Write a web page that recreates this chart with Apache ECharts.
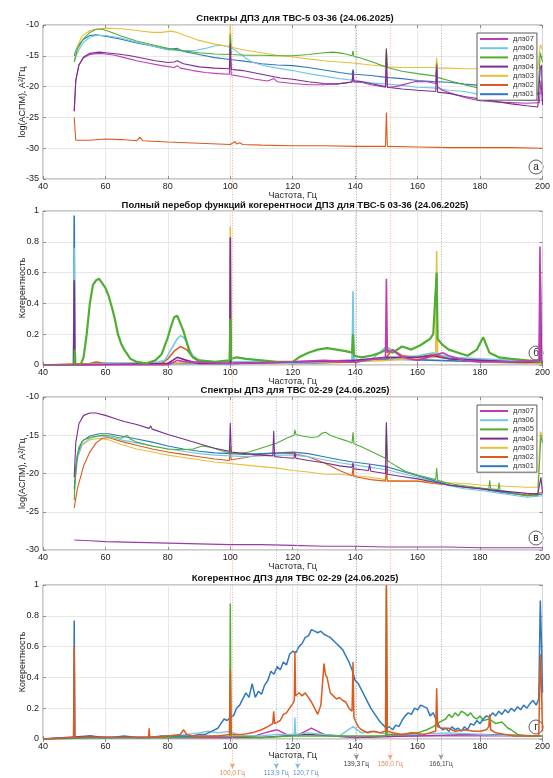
<!DOCTYPE html>
<html><head><meta charset="utf-8">
<script src="https://cdn.jsdelivr.net/npm/echarts/dist/echarts.min.js"></script>
<style>html,body{margin:0;padding:0;background:#fff}#c{width:553px;height:778px}</style>
</head><body><div id="c"></div><script>
// ---------- tick values ----------
const xTicks = [40, 60, 80, 100, 120, 140, 160, 180, 200];
const ySpecA = [-35, -10, 5];
const ySpecB = [0, 1, 0.2];
const ySpecC = [-30, -10, 5];
const ySpecD = [0, 1, 0.2];
const legendNames = ['длэ07','длэ06','длэ05','длэ04','длэ03','длэ02','длэ01'];
const colors = {d07:'#c03cb4', d06:'#72c8e4', d05:'#4fae32', d04:'#7b2d8e', d03:'#e9be3c', d02:'#dc5a1e', d01:'#2f78c0'};

// ---------- panel (а): spectra TVS-5 03-36 ----------
const a07 = [[50,-24],[50.5,-19],[51.5,-16.5],[53,-15.3],[55,-14.8],[58,-14.6],[60,-14.7],[63,-14.9],[66,-15.3],[70,-15.8],[74,-16.2],[78,-16.6],[82,-16.9],[83,-16.6],[84,-17],[88,-17.4],[92,-17.7],[96,-17.9],[99.7,-18.0],[100,-14.5],[100.3,-18.1],[104,-18.4],[108,-18.8],[112,-19.1],[114,-18.7],[115,-19.2],[120,-19.5],[125,-19.7],[130,-19.7],[135,-19.5],[139,-19.3],[139.3,-18.2],[139.6,-19.3],[142,-19.3],[145,-19.7],[149.7,-20.1],[150,-16.8],[150.3,-20.1],[153,-20.0],[156,-19.6],[159,-19.2],[163,-19.2],[165.8,-19.5],[166.1,-16.5],[166.4,-20],[168,-20.6],[172,-21.3],[176,-21.9],[180,-22.3],[185,-22.5],[190,-22.6],[195,-22.7],[199,-22.6],[199.5,-19],[200,-22.5]];
const a06 = [[50,-16],[51,-14.5],[53,-12.8],[55,-12.0],[57,-11.7],[60,-11.7],[65,-12.1],[70,-12.8],[75,-13.4],[80,-14.0],[85,-14.2],[89,-14.1],[92,-13.8],[95,-13.4],[97,-13.3],[99,-13.5],[101,-13.9],[103,-14.6],[105,-15.4],[107,-16.0],[110,-16.5],[115,-17.0],[120,-17.4],[125,-17.9],[130,-18.3],[135,-18.7],[140,-19.0],[145,-19.4],[150,-19.6],[155,-19.8],[160,-20.1],[165,-20.2],[170,-20.6],[175,-20.8],[180,-21.3],[185,-21.8],[190,-22.0],[195,-22.3],[200,-22.2]];
const a05 = [[50,-16],[51,-14],[53,-12.2],[55,-11.2],[57,-10.7],[59,-10.7],[61,-11.0],[65,-11.8],[70,-12.6],[75,-13.2],[80,-13.8],[85,-14.2],[90,-14.5],[95,-14.7],[99.7,-14.8],[100,-11.5],[100.3,-14.8],[105,-14.9],[110,-14.9],[115,-15.0],[120,-15.0],[125,-14.8],[130,-14.5],[133,-14.4],[136,-14.6],[139,-15.0],[139.3,-14.2],[139.6,-15.1],[142,-15.4],[146,-16.1],[149.7,-16.8],[150,-14.2],[150.3,-16.9],[155,-17.5],[160,-17.9],[165.8,-18.3],[166.1,-16.2],[166.4,-18.5],[170,-19.0],[175,-19.7],[180,-20.3],[185,-20.7],[190,-21.0],[195,-21.3],[198.5,-21.3],[199.3,-14.5],[200,-16]];
const a04 = [[50,-24],[50.5,-19],[51.5,-16.5],[53,-15.2],[55,-14.6],[58,-14.4],[60,-14.5],[64,-14.7],[68,-15.0],[72,-15.4],[76,-15.8],[80,-16.1],[82,-16.0],[83,-15.8],[85,-16.3],[90,-16.8],[95,-17.0],[99.7,-17.1],[100,-13.0],[100.3,-17.2],[104,-17.4],[108,-17.8],[112,-18.2],[116,-18.6],[120,-18.8],[125,-19.2],[130,-19.5],[134,-19.6],[137,-19.4],[139,-19.2],[139.3,-17.5],[139.6,-19.1],[142,-19.2],[145,-19.5],[149.7,-20.0],[150,-13.8],[150.3,-20.1],[155,-20.4],[160,-20.6],[165.8,-20.8],[166.1,-17],[166.4,-20.9],[170,-21.1],[175,-21.6],[180,-22.0],[185,-22.4],[190,-22.8],[195,-23.1],[198.5,-23.3],[199.3,-17],[199.7,-16.5],[200,-23]];
const a03 = [[50,-16],[51,-13.5],[52.5,-11.8],[55,-10.9],[58,-10.6],[60,-10.5],[65,-10.6],[70,-10.9],[75,-11.2],[78,-11.2],[81,-11.0],[83,-11.2],[86,-11.8],[90,-12.5],[95,-13.1],[99.7,-13.5],[100,-10.0],[100.3,-13.6],[105,-14.1],[110,-14.5],[115,-14.9],[120,-15.2],[125,-15.5],[130,-15.8],[135,-16.0],[140,-16.2],[145,-16.5],[149.7,-16.7],[150,-13.8],[150.3,-16.8],[155,-16.9],[160,-16.9],[165.8,-16.9],[166.1,-15.3],[166.4,-17],[170,-17.0],[175,-17.1],[180,-17.1],[185,-17.1],[190,-17.2],[195,-17.2],[198.5,-17.0],[199.3,-13.2],[200,-14]];
const a02 = [[50,-25],[50.5,-28.7],[55,-28.7],[60,-28.5],[65,-28.6],[70,-28.8],[71,-28.2],[72,-28.8],[80,-29.0],[90,-29.2],[100,-29.4],[101.5,-28.9],[102,-29.3],[103,-29.1],[104,-29.4],[110,-29.5],[120,-29.6],[130,-29.6],[140,-29.7],[149.7,-29.7],[150,-24.2],[150.3,-29.7],[160,-29.8],[170,-29.9],[180,-29.9],[190,-29.9],[200,-30.0]];
const a01 = [[50,-15],[51,-13.5],[53,-12.3],[55,-11.7],[57,-11.6],[60,-11.8],[65,-12.3],[70,-12.9],[75,-13.4],[80,-14.0],[83,-13.8],[85,-14.3],[90,-14.8],[95,-15.3],[100,-15.6],[105,-15.9],[110,-16.3],[115,-16.5],[120,-16.6],[125,-16.9],[130,-17.3],[135,-17.7],[139,-18.0],[139.3,-17.2],[139.6,-18.0],[145,-18.2],[150,-18.5],[155,-18.7],[160,-19.0],[165,-19.2],[170,-19.3],[175,-19.6],[180,-19.8],[185,-20.3],[190,-20.8],[195,-21.3],[200,-21.0]];

// ---------- panel (б): coherence TVS-5 03-36 ----------
const bGreen = [[40,0],[50,0],[50.2,0.1],[50.4,0],[52,0],[53,0.05],[54,0.2],[55,0.4],[56,0.52],[57,0.55],[58,0.56],[59,0.53],[60,0.5],[61,0.45],[62,0.38],[63,0.3],[64,0.2],[65,0.14],[66,0.1],[67,0.07],[68,0.04],[70,0.02],[73,0.01],[76,0.03],[78,0.07],[80,0.18],[81,0.25],[82,0.31],[83,0.32],[84,0.27],[85,0.22],[86,0.15],[87,0.08],[88,0.05],[90,0.03],[95,0.02],[99.8,0.03],[100,0.3],[100.2,0.04],[102,0.05],[105,0.04],[110,0.03],[115,0.02],[120,0.02],[122,0.05],[125,0.08],[128,0.1],[131,0.11],[134,0.1],[137,0.09],[139,0.08],[139.3,0.2],[139.6,0.06],[142,0.05],[145,0.06],[148,0.08],[150,0.1],[152,0.08],[155,0.12],[158,0.1],[161,0.13],[164,0.17],[165,0.2],[166.1,0.6],[166.4,0.17],[168,0.13],[170,0.1],[173,0.08],[176,0.06],[179,0.1],[181,0.18],[183,0.08],[186,0.05],[190,0.04],[195,0.03],[200,0.02]];
const bLightBlue = [[40,0],[49.8,0],[50,0.76],[50.2,0],[60,0.01],[75,0.01],[79,0.03],[81,0.1],[83,0.17],[84,0.19],[85,0.18],[86,0.15],[87,0.1],[88,0.06],[90,0.03],[95,0.02],[100,0.02],[110,0.02],[120,0.01],[130,0.02],[139,0.03],[139.3,0.48],[139.6,0.03],[145,0.03],[150,0.12],[155,0.05],[160,0.06],[165,0.08],[170,0.05],[180,0.04],[190,0.03],[200,0.02]];
const bOrange = [[40,0],[55,0.01],[57,0.02],[60,0.01],[78,0.01],[80,0.04],[82,0.09],[84,0.12],[86,0.1],[88,0.05],[90,0.02],[100,0.02],[110,0.02],[120,0.01],[140,0.02],[150,0.05],[152,0.1],[155,0.06],[160,0.05],[165,0.07],[170,0.05],[180,0.03],[200,0.02]];
const bYellow = [[40,0],[49.8,0],[50,0.1],[50.2,0],[99.8,0.02],[100,0.9],[100.2,0.02],[120,0.01],[150,0.03],[165.8,0.05],[166.1,0.74],[166.4,0.05],[180,0.02],[200,0.01]];
const bPurple = [[40,0],[49.8,0],[50,0.55],[50.2,0],[80,0.01],[83,0.05],[86,0.03],[90,0.01],[99.8,0.01],[100,0.83],[100.2,0.01],[120,0.02],[140,0.03],[150,0.05],[160,0.05],[165,0.06],[170,0.04],[180,0.03],[190,0.02],[199,0.02],[199.3,0.6],[199.7,0.02],[200,0.01]];
const bMagenta = [[40,0],[80,0],[83,0.03],[86,0.02],[100,0.01],[120,0.02],[130,0.03],[140,0.02],[149.7,0.05],[150,0.56],[150.3,0.08],[152,0.1],[155,0.05],[160,0.03],[165,0.06],[168,0.08],[170,0.06],[175,0.03],[180,0.02],[190,0.02],[198.9,0.03],[199.2,0.77],[199.5,0.03],[200,0.02]];
const bBlue = [[40,0],[49.8,0],[50,0.97],[50.2,0],[60,0.01],[100,0.01],[139,0.02],[139.3,0.1],[139.6,0.02],[150,0.04],[200,0.01]];

// ---------- panel (в): spectra TVS 02-29 ----------
const c07 = [[50,-28.7],[55,-28.8],[60,-28.9],[70,-29.0],[80,-29.1],[90,-29.2],[100,-29.3],[110,-29.3],[120,-29.4],[130,-29.5],[140,-29.5],[150,-29.6],[160,-29.6],[170,-29.6],[180,-29.7],[190,-29.7],[200,-29.7]];
const c06 = [[50,-22.5],[51,-18],[52.5,-16.2],[55,-15.4],[58,-15.1],[61,-15.2],[65,-15.6],[70,-16.0],[75,-16.4],[80,-16.8],[85,-17.1],[90,-17.4],[95,-17.6],[100,-17.7],[105,-17.8],[110,-17.7],[115,-17.6],[120,-17.6],[125,-17.8],[130,-18.2],[135,-18.6],[140,-18.9],[145,-19.2],[150,-19.5],[155,-20.0],[160,-20.5],[165,-21.0],[170,-21.6],[175,-22.0],[180,-22.2],[185,-22.5],[190,-22.8],[195,-23.1],[200,-22.9]];
const c05 = [[50,-23.5],[50.5,-19],[51.5,-16.5],[53,-15.6],[56,-15.2],[59,-15.0],[62,-15.1],[65,-15.4],[67,-15.0],[68,-15.5],[70,-15.9],[75,-16.4],[80,-16.8],[85,-16.9],[88,-16.8],[91,-16.4],[94,-16.6],[97,-17.0],[99.7,-17.3],[100,-16.4],[100.3,-17.3],[103,-17.4],[106,-17.2],[109,-16.8],[112,-16.4],[115,-16.0],[118,-15.4],[120.4,-15.0],[120.7,-14.3],[121,-14.9],[123,-15.1],[126,-15.3],[128,-15.2],[129.5,-14.7],[130.5,-14.6],[132,-15.0],[134,-15.3],[137,-15.7],[139,-16.0],[139.3,-14.6],[139.6,-16.1],[142,-16.5],[145,-17.1],[149.7,-18.0],[150,-13.6],[150.3,-18.3],[153,-19.0],[156,-19.7],[160,-20.2],[165.8,-20.8],[166.1,-19.3],[166.4,-20.9],[170,-21.3],[175,-21.6],[180,-21.9],[182.8,-22.0],[183.1,-20.9],[183.4,-22.0],[185.8,-22.1],[186.1,-21.2],[186.4,-22.2],[190,-22.5],[195,-22.9],[198.5,-22.9],[199.5,-15],[200,-16]];
const c04 = [[50,-20.5],[50.5,-16],[51.5,-13.5],[53,-12.4],[55,-12.1],[57,-12.1],[60,-12.4],[63,-12.8],[66,-13.2],[70,-13.6],[74,-14.1],[74.5,-13.8],[75,-14.2],[80,-14.9],[85,-15.5],[90,-16.1],[95,-16.7],[99.7,-17.1],[100,-13.4],[100.3,-17.2],[105,-17.4],[110,-17.6],[113.6,-17.7],[113.9,-14.4],[114.2,-17.8],[117,-17.9],[120.4,-18.0],[120.7,-17.3],[121,-18.0],[125,-18.3],[130,-18.6],[135,-19.0],[139,-19.2],[139.3,-18.6],[139.6,-19.4],[142,-19.5],[144.3,-19.6],[144.6,-18.8],[145,-19.7],[149.7,-20.0],[150,-13.3],[150.3,-20.1],[155,-20.4],[160,-20.7],[165,-21.1],[170,-21.5],[175,-21.8],[180,-22.0],[185,-22.2],[190,-22.4],[195,-22.6],[198.5,-22.7],[199.5,-20.5],[200,-22.5]];
const c03 = [[50,-22],[51,-18],[52.5,-16.3],[55,-15.6],[58,-15.4],[61,-15.6],[65,-16.2],[70,-16.8],[75,-17.2],[80,-17.6],[85,-17.9],[90,-18.2],[95,-18.5],[100,-18.7],[105,-18.9],[110,-19.1],[115,-19.3],[120,-19.6],[125,-19.8],[130,-20.1],[135,-20.1],[140,-20.3],[145,-20.5],[149.7,-20.8],[150,-20.1],[150.3,-20.9],[155,-21.0],[160,-21.0],[165,-21.1],[170,-21.2],[175,-21.3],[180,-21.5],[185,-21.6],[190,-21.7],[195,-21.8],[198.5,-21.8],[199.3,-14.5],[200,-15]];
const c02 = [[50,-24.5],[51,-22],[53,-19],[55,-17.2],[57,-16],[59,-15.4],[61,-15.3],[65,-15.8],[70,-16.3],[75,-16.8],[80,-17.2],[85,-17.5],[90,-17.8],[95,-18.1],[99.7,-18.3],[100,-17.0],[100.3,-18.2],[105,-17.9],[110,-17.5],[115,-17.3],[120,-17.4],[125,-17.8],[130,-18.6],[135,-19.6],[139,-20.3],[139.3,-19.2],[139.6,-20.4],[145,-20.8],[149.7,-21.0],[150,-19.0],[150.3,-21.0],[155,-21.0],[160,-21.0],[165,-21.3],[170,-21.5],[175,-21.7],[180,-21.9],[185,-22.3],[190,-22.6],[195,-22.8],[200,-22.5]];
const c01 = [[50,-22],[51,-17.5],[52.5,-15.8],[55,-15.1],[58,-14.8],[61,-14.8],[65,-15.1],[70,-15.5],[75,-15.9],[80,-16.4],[85,-16.8],[90,-17.1],[95,-17.3],[100,-17.4],[105,-17.5],[110,-17.4],[115,-17.3],[120,-17.2],[125,-17.4],[130,-17.8],[135,-18.2],[139.3,-18.5],[145,-18.8],[150,-19.1],[155,-19.7],[160,-20.3],[165,-20.9],[170,-21.5],[175,-21.8],[180,-22.0],[185,-22.3],[190,-22.6],[195,-22.9],[200,-22.7]];

// ---------- panel (г): coherence TVS 02-29 ----------
const dBlue = [[40,0],[49.8,0.01],[50,0.77],[50.2,0.01],[52,0.01],[55,0.02],[58,0.01],[62,0.01],[66,0.02],[70,0.01],[74,0.01],[78,0.02],[82,0.02],[86,0.02],[88,0.02],[90,0.03],[92,0.03],[94,0.05],[96,0.07],[97,0.1],[98,0.13],[99,0.12],[100,0.14],[101,0.15],[102,0.2],[103,0.22],[104,0.26],[105,0.3],[106,0.27],[107,0.36],[108,0.27],[109,0.31],[110,0.29],[111,0.35],[112,0.38],[113,0.44],[114,0.42],[115,0.47],[116,0.45],[117,0.5],[118,0.48],[119,0.55],[120,0.57],[121,0.56],[122,0.6],[123,0.62],[124,0.66],[125,0.67],[126,0.71],[127,0.7],[128,0.69],[129,0.7],[130,0.68],[131,0.67],[132,0.66],[133,0.64],[134,0.62],[135,0.6],[136,0.58],[137,0.54],[138,0.5],[139,0.45],[140,0.38],[141,0.36],[142,0.32],[143,0.28],[144,0.24],[145,0.2],[146,0.17],[147,0.14],[148,0.11],[149,0.09],[150,0.07],[151,0.08],[152,0.06],[153,0.09],[154,0.08],[155,0.12],[156,0.15],[157,0.17],[158,0.16],[159,0.2],[160,0.19],[161,0.22],[162,0.21],[163,0.2],[164,0.15],[165,0.17],[166,0.12],[167,0.08],[168,0.06],[169,0.07],[170,0.05],[171,0.08],[172,0.06],[173,0.07],[174,0.05],[175,0.08],[176,0.06],[177,0.1],[178,0.09],[179,0.12],[180,0.1],[181,0.13],[182,0.15],[183,0.14],[184,0.17],[185,0.15],[186,0.18],[187,0.16],[188,0.19],[189,0.17],[190,0.2],[191,0.18],[192,0.21],[193,0.19],[194,0.22],[195,0.2],[196,0.23],[197,0.25],[198,0.22],[198.8,0.26],[199.3,0.9],[199.7,0.6],[200,0.3]];
const dOrange = [[40,0],[49.8,0.01],[50,0.6],[50.2,0.01],[55,0.01],[60,0.01],[65,0.01],[70,0.01],[73.8,0.01],[74,0.07],[74.2,0.01],[80,0.02],[84,0.03],[85,0.06],[86,0.03],[88,0.02],[92,0.02],[96,0.02],[99.7,0.03],[100,0.45],[100.3,0.03],[104,0.03],[107,0.04],[110,0.06],[112,0.08],[113.6,0.1],[113.9,0.18],[114.2,0.1],[116,0.12],[117,0.16],[118,0.17],[119,0.2],[120,0.23],[120.5,0.25],[120.7,0.57],[120.9,0.28],[122,0.3],[123,0.28],[124,0.3],[125,0.27],[126,0.24],[127,0.2],[128,0.16],[129,0.22],[129.5,0.35],[130,0.49],[130.5,0.42],[131,0.4],[132,0.3],[133,0.28],[134,0.26],[135,0.27],[136,0.25],[137,0.24],[138,0.2],[139,0.18],[139.3,0.5],[139.6,0.14],[140,0.12],[141,0.08],[142,0.06],[144,0.04],[146,0.05],[148,0.04],[149.7,0.05],[150,1.0],[150.3,0.05],[152,0.04],[155,0.03],[158,0.04],[162,0.03],[165.8,0.05],[166.1,0.33],[166.4,0.08],[168,0.07],[170,0.07],[172,0.05],[175,0.06],[178,0.05],[180,0.05],[182,0.06],[182.8,0.08],[183.1,0.16],[183.4,0.06],[185,0.04],[188,0.03],[191,0.02],[195,0.02],[198.8,0.02],[199.3,0.55],[199.7,0.3],[200,0.05]];
const dGreen = [[40,0],[60,0.01],[80,0.01],[99.8,0.02],[100,0.88],[100.2,0.02],[110,0.01],[120,0.02],[130,0.02],[140,0.02],[149.8,0.02],[150,0.98],[150.2,0.03],[155,0.03],[160,0.04],[163,0.06],[165,0.08],[167,0.11],[169,0.13],[170,0.16],[171,0.14],[172,0.17],[173,0.15],[174,0.18],[175,0.17],[176,0.15],[177,0.17],[178,0.14],[179,0.13],[180,0.15],[181,0.12],[183,0.13],[185,0.1],[187,0.11],[189,0.07],[190,0.06],[192,0.03],[195,0.02],[200,0.02]];
const dLightBlue = [[40,0],[80,0.01],[86,0.03],[90,0.04],[93,0.05],[96,0.04],[100,0.05],[102,0.03],[106,0.02],[110,0.02],[115,0.03],[120.5,0.03],[120.7,0.14],[120.9,0.03],[125,0.04],[130,0.03],[135,0.02],[139.3,0.08],[142,0.04],[145,0.05],[148,0.04],[150,0.03],[160,0.03],[170,0.04],[180,0.03],[190,0.02],[200,0.02]];
const dMagenta = [[40,0],[60,0.01],[80,0.01],[100,0.01],[108,0.02],[111,0.04],[113,0.05],[115,0.06],[117,0.04],[119,0.02],[122,0.03],[124,0.05],[126,0.07],[128,0.05],[130,0.03],[135,0.02],[140,0.01],[150,0.02],[160,0.02],[170,0.02],[180,0.02],[190,0.02],[200,0.02]];
const dPurple = [[40,0],[55,0.02],[60,0.01],[70,0.01],[90,0.01],[110,0.01],[125,0.03],[140,0.01],[160,0.02],[180,0.03],[200,0.02]];

// ---------- marked frequencies ----------
const markFreqs = [100.0, 113.9, 120.7, 139.3, 150.0, 166.1];
const markLabels = ['100,0 Гц','113,9 Гц','120,7 Гц','139,3 Гц','150,0 Гц','166,1Гц'];

// ================= build chart =================
const FONT = '"Liberation Sans", Arial, Helvetica, sans-serif';
const panels = [
  {top:25, height:154, y:ySpecA, yname:'log(АСПМ), А²/Гц', title:'Спектры ДПЗ для ТВС-5 03-36 (24.06.2025)', titleTop:13, letter:'а'},
  {top:211, height:154, y:ySpecB, yname:'Когерентность', title:'Полный перебор функций когерентноси ДПЗ для ТВС-5 03-36 (24.06.2025)', titleTop:200, letter:'б'},
  {top:397, height:153, y:ySpecC, yname:'log(АСПМ), А²/Гц', title:'Спектры ДПЗ для ТВС 02-29 (24.06.2025)', titleTop:385, letter:'в'},
  {top:585, height:154, y:ySpecD, yname:'Когерентность', title:'Когерентнос ДПЗ для ТВС 02-29 (24.06.2025)', titleTop:573, letter:'г'}
];
const L = 43, R = 5;
const grid = panels.map(p => ({left:L, right:R, top:p.top, height:p.height, show:true, borderColor:'#7a7a7a', borderWidth:0.8, backgroundColor:'#fff'}));
grid.push({left:L, right:R, top:25, bottom:0, show:false});

const xAxis = [], yAxis = [];
const tickStyle = {inside:true, length:3, lineStyle:{color:'#777', width:0.8}};
panels.forEach((p, i) => {
  xAxis.push({gridIndex:i, type:'value', min:xTicks[0], max:xTicks[xTicks.length-1], interval:xTicks[1]-xTicks[0],
    axisLine:{show:false}, axisTick:tickStyle,
    axisLabel:{fontSize:9, color:'#222', margin:3, fontFamily:FONT},
    splitLine:{show:true, lineStyle:{color:'#e2e2e2', width:0.8}},
    name:'Частота, Гц', nameLocation:'middle', nameGap:12, nameMoveOverlap:false, nameTextStyle:{fontSize:9, color:'#222', fontFamily:FONT}});
  xAxis.push({gridIndex:i, type:'value', position:'top', min:xTicks[0], max:xTicks[xTicks.length-1], interval:xTicks[1]-xTicks[0],
    axisLine:{show:false}, axisTick:tickStyle, axisLabel:{show:false}, splitLine:{show:false}});
  yAxis.push({gridIndex:i, type:'value', min:p.y[0], max:p.y[1], interval:p.y[2],
    axisLine:{show:false}, axisTick:tickStyle,
    axisLabel:{fontSize:9, color:'#222', margin:4, fontFamily:FONT},
    splitLine:{show:true, lineStyle:{color:'#e2e2e2', width:0.8}},
    name:p.yname, nameLocation:'middle', nameGap:16, nameMoveOverlap:false, nameRotate:90, nameTextStyle:{fontSize:9, color:'#222', fontFamily:FONT}});
  yAxis.push({gridIndex:i, type:'value', position:'right', min:p.y[0], max:p.y[1], interval:p.y[2],
    axisLine:{show:false}, axisTick:tickStyle, axisLabel:{show:false}, splitLine:{show:false}});
});
xAxis.push({gridIndex:4, type:'value', min:40, max:200, show:false});
yAxis.push({gridIndex:4, type:'value', min:0, max:753, inverse:true, show:false});

function ser(panel, name, data, color, width) {
  return {type:'line', name:name, data:data, xAxisIndex:panel*2, yAxisIndex:panel*2, symbol:'none', showSymbol:false,
    lineStyle:{color:color, width:width}, itemStyle:{color:color}, z:3, silent:true};
}
const series = [
  ser(0,'длэ02',a02,colors.d02,1.1), ser(0,'длэ01',a01,colors.d01,1.1), ser(0,'длэ06',a06,colors.d06,1.1),
  ser(0,'длэ03',a03,colors.d03,1.1), ser(0,'длэ05',a05,colors.d05,1.1), ser(0,'длэ07',a07,colors.d07,1.1),
  ser(0,'длэ04',a04,colors.d04,1.1),
  ser(1,'b_blue',bBlue,colors.d01,1.6), ser(1,'b_yellow',bYellow,colors.d03,1.6), ser(1,'b_orange',bOrange,colors.d02,1.6),
  ser(1,'b_lightblue',bLightBlue,colors.d06,1.6), ser(1,'b_purple',bPurple,colors.d04,1.6), ser(1,'b_green',bGreen,colors.d05,2.2),
  ser(1,'b_magenta',bMagenta,colors.d07,1.6),
  ser(2,'длэ07',c07,'#9a3aa8',1.1), ser(2,'длэ03',c03,colors.d03,1.1), ser(2,'длэ02',c02,colors.d02,1.1),
  ser(2,'длэ06',c06,colors.d06,1.1), ser(2,'длэ01',c01,colors.d01,1.1), ser(2,'длэ05',c05,colors.d05,1.1),
  ser(2,'длэ04',c04,colors.d04,1.1),
  ser(3,'d_purple',dPurple,colors.d04,1.4), ser(3,'d_magenta',dMagenta,colors.d07,1.4), ser(3,'d_lightblue',dLightBlue,colors.d06,1.4),
  ser(3,'d_green',dGreen,colors.d05,1.5), ser(3,'d_blue',dBlue,colors.d01,1.5), ser(3,'d_orange',dOrange,colors.d02,1.5)
];

// reference lines at marked frequencies
const markColors = ['#e8894a','#5b8fd0','#5b8fd0','#333333','#e8894a','#444444'];
const lineColors = ['#eca070','#8fb2df','#8fb2df','#8a8a8a','#eca070','#9a9a9a'];
const startY = [0, 372, 372, 0, 0, 0];
const endY = [744, 744, 744, 735, 735, 735];
const labelOffset = [[0,0],[0,0],[8,0],[0,0],[0,0],[0,0]];
const mlData = markFreqs.map((f, i) => {
  const st = {lineStyle:{color:lineColors[i], type:[1,1.6], width:0.8},
    itemStyle:{color:markColors[i]},
    label:{show:true, position:'end', distance:1, offset:labelOffset[i], formatter:markLabels[i], fontSize:6.5, color:markColors[i], fontFamily:FONT}};
  return [Object.assign({coord:[f, startY[i]]}, st), Object.assign({coord:[f, endY[i]]}, st)];
});
series.push({type:'line', name:'marks', data:[], xAxisIndex:8, yAxisIndex:8, z:1, silent:true,
  markLine:{silent:true, animation:false, symbol:['none','arrow'], symbolSize:[4,6], data:mlData}});

const legendBase = {data:legendNames, orient:'vertical', left:477, icon:'rect', itemWidth:28, itemHeight:2, itemGap:1.2,
  padding:[2,3,2,3], borderColor:'#333', borderWidth:0.8, backgroundColor:'#fff', selectedMode:false,
  textStyle:{fontSize:7.5, color:'#333', fontFamily:FONT, padding:[0,0,0,0]}, z:10};
const legend = [Object.assign({top:33}, legendBase), Object.assign({top:405}, legendBase)];

const title = panels.map(p => ({text:p.title, left:295, top:p.titleTop, textAlign:'center', padding:0,
  textStyle:{fontSize:9.5, fontWeight:'bold', color:'#111', fontFamily:FONT}}));

const graphic = panels.map(p => ({type:'group', x:536, y:p.top + p.height - 12, z:20, children:[
  {type:'circle', shape:{cx:0, cy:0, r:7}, style:{fill:'#fff', stroke:'#333', lineWidth:0.8}},
  {type:'text', style:{text:p.letter, x:0, y:0, align:'center', verticalAlign:'middle', font:'10px ' + FONT, fill:'#222'}}
]}));

const chart = echarts.init(document.getElementById('c'), null, {renderer:'canvas'});
chart.setOption({animation:false, backgroundColor:'#fff', title, grid, xAxis, yAxis, series, legend, graphic});
</script></body></html>
